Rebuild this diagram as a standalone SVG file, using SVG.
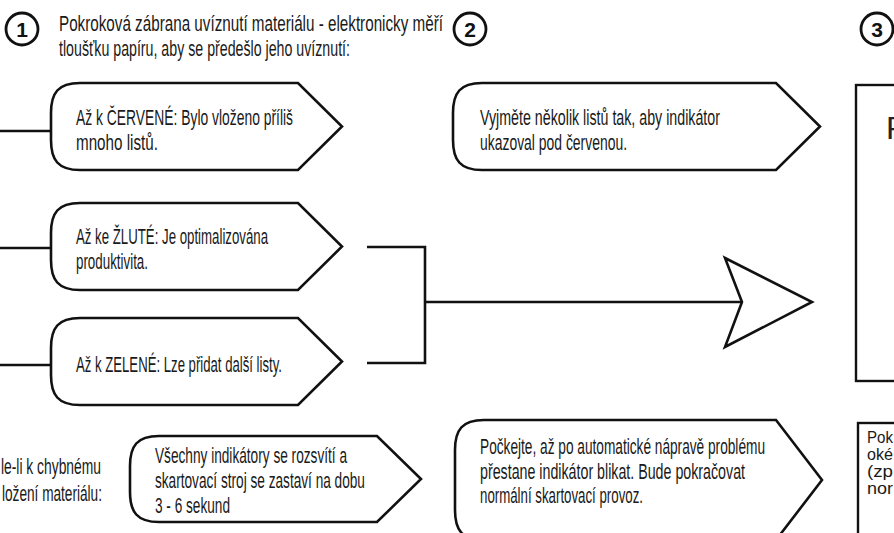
<svg xmlns="http://www.w3.org/2000/svg" width="894" height="533" viewBox="0 0 894 533">
<style>
.bg{fill:#ffffff}
.node{fill:#ffffff;stroke:#111;stroke-width:2.6;stroke-linejoin:miter}
.box{fill:#ffffff;stroke:#111;stroke-width:2.4}
.step{fill:#ffffff;stroke:#111;stroke-width:2.8}
.num{font-family:"Liberation Sans",Arial,sans-serif;font-weight:bold;font-size:21px;fill:#111;text-anchor:middle}
.t{font-family:"Liberation Sans",Arial,sans-serif;font-size:22px;fill:#1a1a1a}
.ts{font-family:"Liberation Sans",Arial,sans-serif;font-size:16px;fill:#1a1a1a}
.big{font-family:"Liberation Sans",Arial,sans-serif;font-size:32px;fill:#222}
.conn{fill:none;stroke:#111;stroke-width:2.6}
.head{fill:#ffffff;stroke:#111;stroke-width:2.6;stroke-linejoin:miter}
</style>
<rect class="bg" x="0" y="0" width="894" height="533"/>

<g id="step1">
<circle class="step" cx="22" cy="29" r="16"/>
<text class="num" x="22" y="36.5">1</text>
</g>
<g id="title">
<text class="t" transform="scale(0.68,1)" x="86.76" y="31" textLength="564.7" lengthAdjust="spacingAndGlyphs">Pokroková zábrana uvíznutí materiálu - elektronicky měří</text>
<text class="t" transform="scale(0.68,1)" x="86.76" y="56" textLength="427.9" lengthAdjust="spacingAndGlyphs">tloušťku papíru, aby se předešlo jeho uvíznutí:</text>
</g>
<g id="step2">
<circle class="step" cx="470" cy="29" r="16"/>
<text class="num" x="470" y="36.5">2</text>
</g>
<g id="step3">
<circle class="step" cx="877" cy="29" r="16"/>
<text class="num" x="877" y="36.5">3</text>
</g>

<g id="connectors">
<path class="conn" d="M0,131 H50"/>
<path class="conn" d="M0,248 H50"/>
<path class="conn" d="M0,365 H50"/>
<path class="conn" d="M367,247 H425 V363 H367"/>
<path class="conn" d="M425,302 H742"/>
<polygon class="head" points="725,258 812,302 725,347 742,302"/>
</g>

<g id="red">
<path class="node" d="M80,83 L298,83 L342,126.5 L298,170 L80,170 C58,170 51,160 51,140 L51,113 C51,93 58,83 80,83 Z"/>
<text class="t" transform="scale(0.68,1)" x="111.76" y="125" textLength="319.1" lengthAdjust="spacingAndGlyphs">Až k ČERVENÉ: Bylo vloženo příliš</text>
<text class="t" transform="scale(0.68,1)" x="111.76" y="150" textLength="120.6" lengthAdjust="spacingAndGlyphs">mnoho listů.</text>
</g>
<g id="yellow">
<path class="node" d="M80,203 L298,203 L342,246.5 L298,290 L80,290 C58,290 51,280 51,260 L51,233 C51,213 58,203 80,203 Z"/>
<text class="t" transform="scale(0.68,1)" x="111.76" y="244" textLength="282.4" lengthAdjust="spacingAndGlyphs">Až ke ŽLUTÉ: Je optimalizována</text>
<text class="t" transform="scale(0.68,1)" x="111.76" y="269" textLength="105.9" lengthAdjust="spacingAndGlyphs">produktivita.</text>
</g>
<g id="green">
<path class="node" d="M80,318 L298,318 L342,361.5 L298,405 L80,405 C58,405 51,395 51,375 L51,348 C51,328 58,318 80,318 Z"/>
<text class="t" transform="scale(0.68,1)" x="111.76" y="372" textLength="302.9" lengthAdjust="spacingAndGlyphs">Až k ZELENÉ: Lze přidat další listy.</text>
</g>
<g id="remove">
<path class="node" d="M482,83 L776,83 L820,126.5 L776,170 L482,170 C460,170 453,160 453,140 L453,113 C453,93 460,83 482,83 Z"/>
<text class="t" transform="scale(0.68,1)" x="705.9" y="125" textLength="352.9" lengthAdjust="spacingAndGlyphs">Vyjměte několik listů tak, aby indikátor</text>
<text class="t" transform="scale(0.68,1)" x="705.9" y="150" textLength="216.2" lengthAdjust="spacingAndGlyphs">ukazoval pod červenou.</text>
</g>
<g id="jamlabel">
<text class="t" transform="scale(0.68,1)" x="148.5" y="474" text-anchor="end" textLength="147.1" lengthAdjust="spacingAndGlyphs">le-li k chybnému</text>
<text class="t" transform="scale(0.68,1)" x="150" y="501" text-anchor="end" textLength="147.1" lengthAdjust="spacingAndGlyphs">ložení materiálu:</text>
</g>
<g id="allindicators">
<path class="node" d="M159,436 L377,436 L421,479 L377,522 L159,522 C137,522 130,512 130,492 L130,466 C130,446 137,436 159,436 Z"/>
<text class="t" transform="scale(0.68,1)" x="227.9" y="463" textLength="282.4" lengthAdjust="spacingAndGlyphs">Všechny indikátory se rozsvítí a</text>
<text class="t" transform="scale(0.68,1)" x="227.9" y="488" textLength="308.8" lengthAdjust="spacingAndGlyphs">skartovací stroj se zastaví na dobu</text>
<text class="t" transform="scale(0.68,1)" x="227.9" y="513" textLength="110.3" lengthAdjust="spacingAndGlyphs">3 - 6 sekund</text>
</g>
<g id="wait">
<path class="node" d="M484,420 L776,420 L822,480 L776,540 L484,540 C462,540 455,530 455,510 L455,450 C455,430 462,420 484,420 Z"/>
<text class="t" transform="scale(0.68,1)" x="705.9" y="454" textLength="419.1" lengthAdjust="spacingAndGlyphs">Počkejte, až po automatické nápravě problému</text>
<text class="t" transform="scale(0.68,1)" x="705.9" y="479" textLength="389.7" lengthAdjust="spacingAndGlyphs">přestane indikátor blikat. Bude pokračovat</text>
<text class="t" transform="scale(0.68,1)" x="705.9" y="503" textLength="239.7" lengthAdjust="spacingAndGlyphs">normální skartovací provoz.</text>
</g>
<g id="panel3">
<rect class="box" x="856" y="85" width="60" height="296"/>
<text class="big" x="886" y="139">P</text>
</g>
<g id="panel3note">
<rect class="box" x="858" y="423" width="60" height="130"/>
<text class="ts" transform="scale(0.68,1)" x="1275" y="443" textLength="38.2" lengthAdjust="spacingAndGlyphs">Pok</text>
<text class="ts" transform="scale(0.68,1)" x="1275" y="460" textLength="38.2" lengthAdjust="spacingAndGlyphs">oké</text>
<text class="ts" transform="scale(0.68,1)" x="1275" y="477" textLength="38.2" lengthAdjust="spacingAndGlyphs">(zp</text>
<text class="ts" transform="scale(0.68,1)" x="1275" y="494" textLength="38.2" lengthAdjust="spacingAndGlyphs">nor</text>
</g>
</svg>
